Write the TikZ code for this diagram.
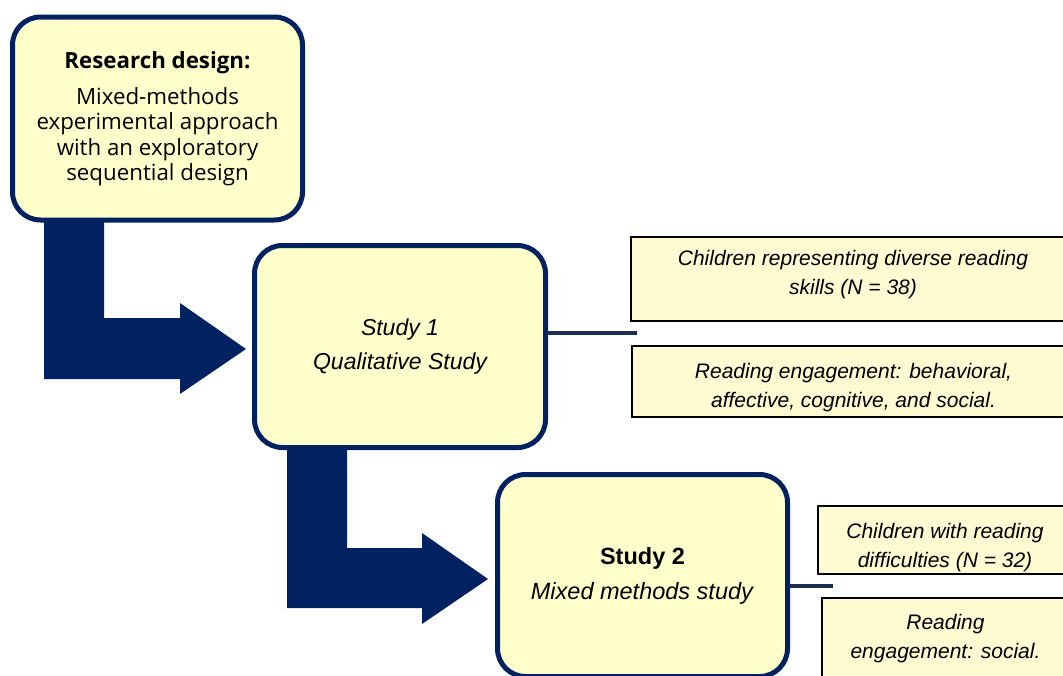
\documentclass[tikz,border=0pt]{standalone}
\usepackage{fontspec}
\setmainfont{Liberation Sans}
\newfontfamily\headfont{Open Sans}
\usetikzlibrary{calc}

\definecolor{navy}{RGB}{2,33,96}
\definecolor{linknavy}{RGB}{26,46,78}
\definecolor{boxfill}{RGB}{255,255,204}
\definecolor{notefill}{RGB}{255,250,210}

\tikzset{
  stagebox/.style={draw=navy, line width=5pt, fill=boxfill, rounded corners=28pt,
    align=center, inner sep=0pt},
  notebox/.style={draw=black, line width=2.6pt, fill=notefill, align=center,
    inner sep=0pt, font=\fontsize{21}{29}\selectfont\itshape},
  blockarrow/.style={fill=navy, draw=none},
  link/.style={draw=linknavy, line width=4.5pt, line cap=butt},
}

\begin{document}
\begin{tikzpicture}[x=1pt,y=-1pt]
  \useasboundingbox (0,0) rectangle (1063,675);
  \clip (0,0) rectangle (1063,675);

  % bent block arrows between the stages
  \path[blockarrow] (44,200) -- (104,200) -- (104,318) -- (180,318) -- (180,303)
    -- (246,349) -- (180,394) -- (180,379) -- (44,379) -- cycle;
  \path[blockarrow] (287,430) -- (347,430) -- (347,548) -- (422,548) -- (422,533)
    -- (488,579) -- (422,624) -- (422,608) -- (287,608) -- cycle;

  % stages
  \node[stagebox, minimum width=290pt, minimum height=203pt,
        font=\headfont\fontsize{22.3}{25.3}\selectfont] (design) at (157.5,118.5)
    {{\bfseries Research design:}\\[11pt]
     Mixed-methods\\experimental approach\\with an exploratory\\sequential design};

  \node[stagebox, minimum width=291pt, minimum height=202pt,
        font=\fontsize{23}{34}\selectfont\itshape] (study1) at (400,346.5)
    {Study 1\\Qualitative Study};

  \node[stagebox, minimum width=290pt, minimum height=202pt,
        font=\fontsize{23.5}{35}\selectfont] (study2) at (642.5,575.5)
    {\textbf{Study 2}\\\textit{Mixed methods study}};

  % notes on the first study
  \node[notebox, minimum width=444pt, minimum height=84pt, text depth=14pt]
    (sample1) at (853,279)
    {Children representing diverse reading\\skills (N = 38)};
  \node[notebox, minimum width=443pt, minimum height=71pt] (focus1) at (853.5,381.5)
    {\rule{0pt}{28pt}Reading engagement: behavioral,\\affective, cognitive, and social.};

  % notes on the second study
  \node[notebox, minimum width=254pt, minimum height=68pt] (sample2) at (945,540)
    {\rule{0pt}{30pt}Children with reading\\difficulties (N = 32)};
  \node[notebox, minimum width=247pt, minimum height=82pt] (focus2) at (945.5,639)
    {Reading\\engagement: social.};

  % connectors from the stages to their notes
  \coordinate (j1) at (637,333);
  \coordinate (j2) at (833,586);
  \draw[link] (j1 -| study1.east) -- (j1);
  \draw[link] (j2 -| study2.east) -- (j2);
\end{tikzpicture}
\end{document}
